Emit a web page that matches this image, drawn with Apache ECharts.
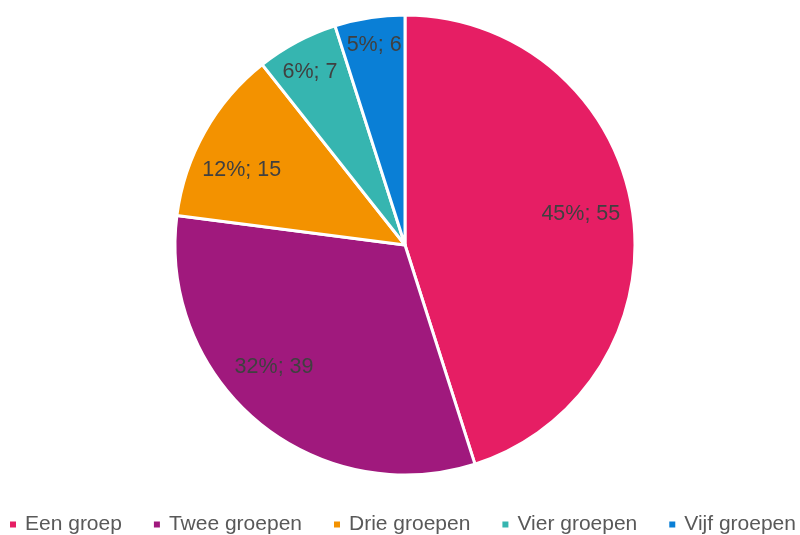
<!DOCTYPE html>
<html>
<head>
<meta charset="utf-8">
<script src="https://cdn.jsdelivr.net/npm/echarts@6/dist/echarts.min.js"></script>
<style>
  html, body { margin: 0; padding: 0; background: #fff; }
  #chart { width: 800px; height: 535px; }
</style>
</head>
<body>
<div id="chart"></div>
<script>
const categories = ["Een groep", "Twee groepen", "Drie groepen", "Vier groepen", "Vijf groepen"];
const counts = [55, 39, 15, 7, 6];
const colors = ["#E61E64", "#A0197D", "#F39200", "#36B5B0", "#0A7FD6"];

// label placement: distance from centre and a small nudge, like the original
const labelDist = [179, 178, 180, 197, 204];
const labelNudge = [[-4, -3], [-15, -17], [-4, 15], [-1, 4], [1, 5]];

const total = counts.reduce((a, b) => a + b, 0);
const center = [405, 245];
const R = 230;
const font = "Liberation Sans, Arial";

const chart = echarts.init(document.getElementById("chart"));

const pieData = categories.map((c, i) => ({ name: c, value: counts[i] }));

// one invisible ring per label, so each label sits at its own distance
const labelSeries = categories.map((c, k) => ({
  type: "pie",
  center: [center[0] + labelNudge[k][0], center[1] + labelNudge[k][1]],
  radius: [2 * labelDist[k] - R, R],
  startAngle: 90,
  clockwise: true,
  silent: true,
  itemStyle: { color: "transparent" },
  labelLine: { show: false },
  data: categories.map((name, i) => ({
    name: name,
    value: counts[i],
    label: {
      show: i === k,
      position: "inside",
      fontFamily: font,
      fontSize: 21.5,
      color: "#404040",
      formatter: (p) => Math.round((p.value / total) * 100) + "%; " + p.value,
    },
  })),
}));

const option = {
  animation: false,
  color: colors,
  legend: {
    top: 514,
    left: 8,
    width: 1000,
    padding: 0,
    itemWidth: 8,
    itemHeight: 8,
    itemGap: 30,
    icon: "rect",
    textStyle: { fontFamily: font, fontSize: 21, color: "#595959", padding: [0, 0, 0, 3] },
    data: categories,
  },
  series: [
    {
      type: "pie",
      center: center,
      radius: R,
      startAngle: 90,
      clockwise: true,
      silent: true,
      label: { show: false },
      labelLine: { show: false },
      itemStyle: { borderColor: "#fff", borderWidth: 3 },
      data: pieData,
    },
    ...labelSeries,
  ],
};

chart.setOption(option);
window.addEventListener("resize", () => chart.resize());
</script>
</body>
</html>
